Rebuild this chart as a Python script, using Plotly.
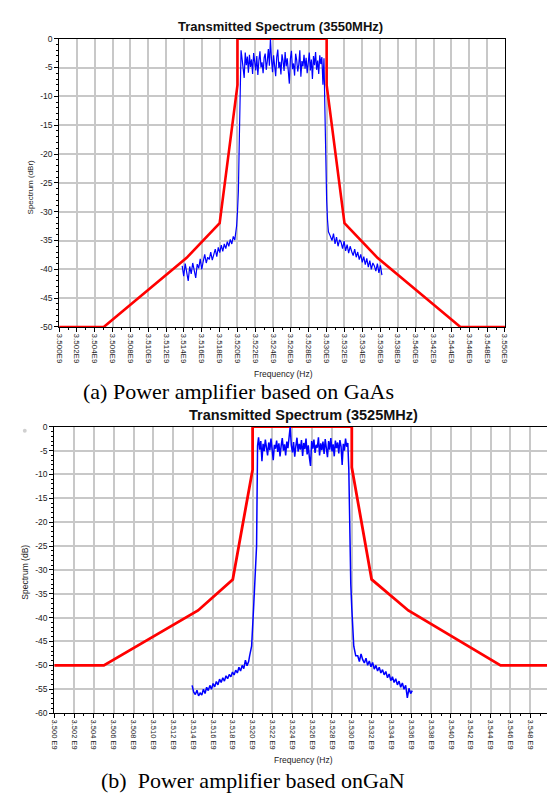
import numpy as np
import plotly.graph_objects as go

# ---------------- data ----------------
x_ticks = [3.500e9 + i * 2e6 for i in range(26)]
x_ticklabels_a = ["%.3fE9" % (v / 1e9) for v in x_ticks]
x_ticklabels_b = ["%.3f E9" % (v / 1e9) for v in x_ticks]
y_ticks_a = [0, -5, -10, -15, -20, -25, -30, -35, -40, -45, -50]
y_ticks_b = [0, -5, -10, -15, -20, -25, -30, -35, -40, -45, -50, -55, -60]

# Spectrum mask (red)
mask_a_f = [3.500e9, 3.505e9, 3.5143e9, 3.518e9, 3.520e9, 3.520e9, 3.530e9, 3.530e9,
            3.532e9, 3.5357e9, 3.545e9, 3.550e9]
mask_a_db = [-50, -50, -38, -32, -8, 0, 0, -8, -32, -38, -50, -50]
mask_b_f = [3.500e9, 3.505e9, 3.5145e9, 3.518e9, 3.520e9, 3.520e9, 3.530e9,
            3.530e9, 3.532e9, 3.5357e9, 3.545e9, 3.550e9]
mask_b_db = [-50, -50, -38.5, -32, -9, 0, 0, -8.5, -32, -38.5, -50, -50]

# GaAs measured spectrum (blue)
gaas_left_range = (3.5138e9, 3.5197e9)
gaas_left_db = [-39.4, -41.2, -39.0, -40.6, -42.0, -39.5, -40.8, -38.9, -40.2, -41.5, -39.1, -39.8,
                -38.2, -40.0, -38.6, -37.4, -38.9, -37.9, -38.3, -37.0, -38.4, -37.6, -36.5, -37.8,
                -36.2, -37.1, -35.8, -36.9, -35.6, -36.4, -35.2, -36.0, -34.8, -35.6, -34.3, -34.9]
gaas_rise_f = [3.5198e9, 3.5199e9, 3.5200e9, 3.5201e9, 3.5202e9, 3.5203e9]
gaas_rise_db = [-34.0, -32.5, -30.0, -26.5, -18.0, -6.0]
gaas_band_range = (3.5204e9, 3.5297e9)
gaas_band_db = [-2.0, -3.5, -5.2, -6.8, -2.4, -4.6, -3.1, -5.9, -2.8, -4.9,
                -3.6, -6.1, -2.5, -4.2, -5.5, -3.0, -6.3, -3.8, -2.2, -5.0,
                -4.1, -6.0, -3.3, -2.6, -5.4, -3.9, -1.8, -4.7, 0.0, -3.6,
                -5.8, -2.9, -4.4, -6.5, -3.2, -1.9, -5.1, -4.0, -6.2, -2.7,
                -3.8, -5.6, -2.3, -4.8, -3.4, -6.0, -7.8, -3.5, -2.1, -5.3,
                -4.3, -6.4, -2.6, -3.7, -5.7, -4.5, -2.0, -6.6, -3.9, -4.8,
                -2.8, -5.2, -3.3, -6.0, -4.1, -2.4, -5.5, -3.6, -7.0, -3.0,
                -4.6, -2.3, -5.4, -3.8, -6.1, -2.9, -4.4, -3.2, -8.0, -3.4]
gaas_fall_f = [3.5298e9, 3.5299e9, 3.5300e9, 3.5301e9, 3.5302e9, 3.5304e9]
gaas_fall_db = [-12.0, -22.0, -28.0, -31.5, -33.5, -34.2]
gaas_right_range = (3.5306e9, 3.5362e9)
gaas_right_db = [-35.0, -33.8, -35.6, -34.4, -36.0, -34.9, -35.3, -36.4, -35.1, -36.8, -35.7, -37.2,
                 -36.0, -36.9, -37.6, -36.5, -37.9, -37.0, -38.3, -37.4, -38.8, -37.8, -39.2, -38.1,
                 -39.6, -38.5, -40.0, -38.9, -39.4, -40.3, -39.0, -40.6, -39.3, -41.0]

# GaN measured spectrum (blue)
gan_left_range = (3.5139e9, 3.5196e9)
gan_left_db = [-54.2, -55.6, -56.1, -55.2, -56.4, -55.8, -56.2, -55.0, -55.9, -54.6, -55.3, -54.2,
               -55.0, -53.8, -54.5, -53.4, -54.1, -52.9, -53.6, -52.6, -53.3, -52.2, -52.8, -51.9,
               -52.4, -51.4, -52.0, -51.0, -51.6, -50.4, -51.2, -50.0, -50.7, -48.9, -50.1, -49.2]
gan_rise_f = [3.5197e9, 3.5199e9, 3.5201e9, 3.5203e9, 3.5204e9, 3.5205e9]
gan_rise_db = [-48.0, -46.0, -38.0, -30.0, -25.0, -4.0]
gan_band_range = (3.5206e9, 3.5296e9)
gan_band_db = [-2.2, -4.8, -3.0, -7.2, -3.6, -5.1, -2.7, -4.4, -6.0, -3.3,
               -4.9, -2.5, -5.6, -7.0, -3.8, -4.6, -2.9, -5.3, -3.5, -6.2,
               -4.0, -2.4, -5.0, -3.7, -6.0, -3.1, -4.5, -2.6, 0.0, -3.9,
               -5.4, -3.2, -6.3, -4.1, -2.3, -5.2, -3.6, -4.8, -2.8, -6.1,
               -3.4, -4.7, -2.5, -5.8, -3.9, -6.5, -8.2, -3.0, -4.6, -2.7,
               -5.5, -3.8, -4.4, -2.2, -6.0, -3.5, -4.9, -3.1, -5.7, -2.6,
               -4.3, -6.4, -3.0, -4.8, -2.4, -5.2, -3.7, -6.2, -2.9, -4.5,
               -3.3, -5.6, -2.8, -4.1, -8.0, -3.6, -5.0, -2.5, -4.2, -3.4]
gan_fall_f = [3.5297e9, 3.5298e9, 3.5299e9, 3.5300e9, 3.5301e9, 3.5302e9, 3.5304e9]
gan_fall_db = [-9.0, -26.0, -33.0, -38.0, -43.0, -46.0, -48.0]
gan_right_range = (3.5306e9, 3.5361e9)
gan_right_db = [-48.0, -49.2, -47.6, -48.8, -49.5, -48.5, -50.0, -49.1, -50.3, -49.4, -50.8, -50.0,
                -51.2, -50.4, -51.6, -50.9, -52.0, -51.3, -52.6, -51.8, -53.2, -52.4, -53.6, -52.8,
                -54.1, -53.3, -54.6, -53.7, -55.0, -54.2, -56.8, -54.8, -55.9, -55.3]


def assemble(left_rng, left, rise_f, rise, band_rng, band, fall_f, fall, right_rng, right):
    f = (list(np.linspace(left_rng[0], left_rng[1], len(left))) + rise_f +
         list(np.linspace(band_rng[0], band_rng[1], len(band))) + fall_f +
         list(np.linspace(right_rng[0], right_rng[1], len(right))))
    d = left + rise + band + fall + right
    return f, d


gaas_f, gaas_db = assemble(gaas_left_range, gaas_left_db, gaas_rise_f, gaas_rise_db,
                           gaas_band_range, gaas_band_db, gaas_fall_f, gaas_fall_db,
                           gaas_right_range, gaas_right_db)
gan_f, gan_db = assemble(gan_left_range, gan_left_db, gan_rise_f, gan_rise_db,
                         gan_band_range, gan_band_db, gan_fall_f, gan_fall_db,
                         gan_right_range, gan_right_db)

# ---------------- figure ----------------
W, H = 555, 794
RED = "#ff0000"
BLUE = "#0000ff"
GRID = "#c8c8c8"
SANS = "Liberation Sans, Arial, sans-serif"
SERIF = "Liberation Serif, Times New Roman, serif"

fig = go.Figure()
fig.add_trace(go.Scatter(x=mask_a_f, y=mask_a_db, mode="lines", line=dict(color=RED, width=2.6),
                         xaxis="x", yaxis="y", cliponaxis=False, showlegend=False))
fig.add_trace(go.Scatter(x=gaas_f, y=gaas_db, mode="lines", line=dict(color=BLUE, width=1.2),
                         xaxis="x", yaxis="y", cliponaxis=False, showlegend=False))
fig.add_trace(go.Scatter(x=mask_b_f, y=mask_b_db, mode="lines", line=dict(color=RED, width=2.8),
                         xaxis="x2", yaxis="y2", cliponaxis=False, showlegend=False))
fig.add_trace(go.Scatter(x=gan_f, y=gan_db, mode="lines", line=dict(color=BLUE, width=1.5),
                         xaxis="x2", yaxis="y2", cliponaxis=False, showlegend=False))


def px_x(p):
    return p / W


def px_y(p):
    return 1 - p / H


def xaxis_style(dom, anchor, labels, fsize):
    return dict(domain=dom, anchor=anchor, range=[3.500e9, 3.550e9],
                tickvals=x_ticks, ticktext=labels, tickangle=90,
                tickfont=dict(family=SANS, size=fsize, color="#222"),
                ticklabeloverflow="allow",
                showgrid=True, gridcolor=GRID, gridwidth=1.5,
                showline=True, linecolor="black", linewidth=1, mirror=True,
                ticks="outside", ticklen=4, tickcolor="black",
                minor=dict(dtick=1e6, tick0=3.500e9, ticks="outside", ticklen=2,
                           tickcolor="black", showgrid=False),
                zeroline=False, fixedrange=True)


def yaxis_style(dom, anchor, vals, rng, fsize):
    return dict(domain=dom, anchor=anchor, range=rng,
                tickvals=vals, ticktext=[str(v) for v in vals],
                tickfont=dict(family=SANS, size=fsize, color="#222"),
                showgrid=True, gridcolor=GRID, gridwidth=1.5,
                showline=True, linecolor="black", linewidth=1, mirror=True,
                ticks="outside", ticklen=4, tickcolor="black",
                minor=dict(dtick=1, ticks="outside", ticklen=2, tickcolor="black", showgrid=False),
                zeroline=False, fixedrange=True)


fig.update_layout(
    width=W, height=H,
    margin=dict(l=0, r=0, t=0, b=0),
    paper_bgcolor="white", plot_bgcolor="white",
    xaxis=xaxis_style([px_x(47), px_x(501)], "y", x_ticklabels_a, 8),
    yaxis=yaxis_style([px_y(318), px_y(26)], "x", y_ticks_a, [-50, 0], 8.5),
    xaxis2=xaxis_style([px_x(42), px_x(547)], "y2", x_ticklabels_b, 7.5),
    yaxis2=yaxis_style([px_y(709), px_y(419)], "x2", y_ticks_b, [-60, 0], 8.5),
)

annots = [
    dict(text="<b>Transmitted Spectrum (3550MHz)</b>", x=px_x(272), y=px_y(14),
         font=dict(family=SANS, size=13, color="#111")),
    dict(text="Spectrum (dBr)", x=px_x(18), y=px_y(176), textangle=-90,
         font=dict(family=SANS, size=8, color="#222")),
    dict(text="Frequency (Hz)", x=px_x(275), y=px_y(366),
         font=dict(family=SANS, size=8.5, color="#222")),
    dict(text="(a) Power amplifier based on GaAs", x=px_x(230), y=px_y(383),
         font=dict(family=SERIF, size=22, color="black")),
    dict(text="<b>Transmitted Spectrum (3525MHz)</b>", x=px_x(296), y=px_y(407),
         font=dict(family=SANS, size=14.5, color="#111")),
    dict(text="Spectrum (dB)", x=px_x(12), y=px_y(566), textangle=-90,
         font=dict(family=SANS, size=8.5, color="#222")),
    dict(text="Frequency (Hz)", x=px_x(296), y=px_y(757),
         font=dict(family=SANS, size=8.5, color="#222")),
    dict(text="(b)  Power amplifier based onGaN", x=px_x(244), y=px_y(777),
         font=dict(family=SERIF, size=22, color="black")),
]
for a in annots:
    a.update(xref="paper", yref="paper", showarrow=False, xanchor="center", yanchor="middle")
    fig.add_annotation(**a)

# small gray dot at the top-left of panel (b)
fig.add_shape(type="circle", xref="paper", yref="paper",
              x0=px_x(10), x1=px_x(14), y0=px_y(425), y1=px_y(421),
              fillcolor="#d0d0d0", line=dict(width=0))

fig.write_html("out.html")
